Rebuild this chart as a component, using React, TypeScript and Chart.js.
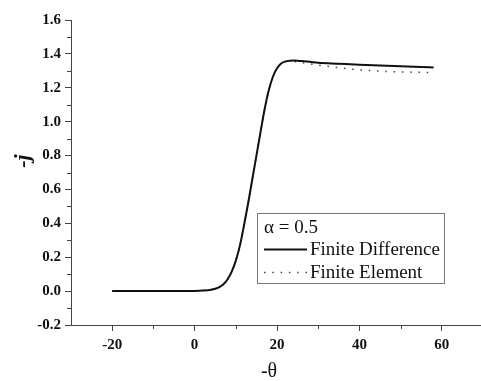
import React, { useEffect, useRef } from 'react';
import { Chart, registerables } from 'chart.js';

Chart.register(...registerables);

const thetaFD = [-20, -15, -10, -5, 0, 2, 4, 5, 6, 7, 8, 9, 10, 11, 12, 13, 14, 15, 16, 17, 18, 19, 20, 21, 22, 23, 24, 25, 26, 28, 30, 35, 40, 45, 50, 55, 58];
const finiteDifference = [0, 0, 0, 0, 0.001, 0.003, 0.008, 0.014, 0.024, 0.04, 0.07, 0.115, 0.18, 0.27, 0.39, 0.52, 0.66, 0.8, 0.94, 1.075, 1.185, 1.265, 1.315, 1.343, 1.355, 1.36, 1.361, 1.36, 1.358, 1.353, 1.348, 1.342, 1.336, 1.331, 1.327, 1.323, 1.32];
const thetaFE = [-20, -15, -10, -5, 0, 2, 4, 5, 6, 7, 8, 9, 10, 11, 12, 13, 14, 15, 16, 17, 18, 19, 20, 21, 22, 23, 24, 25, 26, 28, 30, 35, 40, 45, 50, 55, 57];
const finiteElement = [0, 0, 0, 0, 0.001, 0.003, 0.008, 0.014, 0.024, 0.04, 0.07, 0.115, 0.18, 0.27, 0.39, 0.52, 0.66, 0.8, 0.94, 1.075, 1.185, 1.265, 1.315, 1.343, 1.354, 1.357, 1.356, 1.353, 1.349, 1.341, 1.334, 1.318, 1.306, 1.298, 1.294, 1.291, 1.29];

const xMajorTicks = [-20, 0, 20, 40, 60];
const xMinorTicks = [-10, 10, 30, 50];
const yMajorTicks = [-0.2, 0, 0.2, 0.4, 0.6, 0.8, 1.0, 1.2, 1.4, 1.6];
const yMinorTicks = [-0.1, 0.1, 0.3, 0.5, 0.7, 0.9, 1.1, 1.3, 1.5];

const seriesLabels = ['Finite Difference', 'Finite Element'];
const legendTitle = 'α = 0.5';
const xTitle = '-θ';
const yTitle = '-j';

const AXIS_COLOR = '#444';
const SERIF = "'Liberation Serif', 'Times New Roman', serif";

const decorPlugin = {
  id: 'decor',
  afterDraw(chart: any) {
    const ctx = chart.ctx as CanvasRenderingContext2D;
    const xs = chart.scales.x;
    const ys = chart.scales.y;
    const area = chart.chartArea;
    ctx.save();
    // minor ticks
    ctx.strokeStyle = AXIS_COLOR;
    ctx.lineWidth = 1;
    ctx.beginPath();
    xMinorTicks.forEach((v) => {
      const px = Math.round(xs.getPixelForValue(v)) + 0.5;
      ctx.moveTo(px, area.bottom);
      ctx.lineTo(px, area.bottom + 4);
    });
    yMinorTicks.forEach((v) => {
      const py = Math.round(ys.getPixelForValue(v)) + 0.5;
      ctx.moveTo(area.left, py);
      ctx.lineTo(area.left - 4, py);
    });
    ctx.stroke();

    // axis titles
    ctx.fillStyle = '#111';
    ctx.font = `italic bold 22px ${SERIF}`;
    ctx.textAlign = 'center';
    ctx.textBaseline = 'alphabetic';
    ctx.save();
    ctx.translate(29, 161);
    ctx.rotate(-Math.PI / 2);
    ctx.fillText(yTitle, 0, 0);
    ctx.restore();
    ctx.font = `20px ${SERIF}`;
    ctx.fillText(xTitle, 269, 377);

    // legend box
    const bx = 257.5, by = 213.5, bw = 187, bh = 70;
    ctx.strokeStyle = '#777';
    ctx.lineWidth = 1;
    ctx.fillStyle = '#fff';
    ctx.fillRect(bx, by, bw, bh);
    ctx.strokeRect(bx, by, bw, bh);
    ctx.fillStyle = '#111';
    ctx.font = `19px ${SERIF}`;
    ctx.textAlign = 'left';
    ctx.fillText(legendTitle, 264, 233);
    const rows = [255, 278];
    chart.data.datasets.forEach((ds: any, i: number) => {
      const yLine = rows[i] - 5.5;
      ctx.save();
      ctx.strokeStyle = ds.borderColor;
      ctx.lineWidth = ds.borderWidth;
      ctx.setLineDash(ds.borderDash || []);
      ctx.beginPath();
      ctx.moveTo(264, yLine);
      ctx.lineTo(307, yLine);
      ctx.stroke();
      ctx.restore();
      ctx.fillStyle = '#111';
      ctx.fillText(ds.label, 310, rows[i]);
    });
    ctx.restore();
  },
};

export default function App() {
  const canvasRef = useRef<HTMLCanvasElement | null>(null);

  useEffect(() => {
    document.body.style.margin = '0';
    const canvas = canvasRef.current;
    if (!canvas) return;
    const tickFont = { family: SERIF, size: 15, weight: 'bold' as const };
    const chart = new Chart(canvas, {
      type: 'line',
      data: {
        datasets: [
          {
            label: seriesLabels[0],
            data: thetaFD.map((x, i) => ({ x, y: finiteDifference[i] })),
            borderColor: '#111',
            borderWidth: 2,
            pointRadius: 0,
            cubicInterpolationMode: 'monotone',
            fill: false,
          },
          {
            label: seriesLabels[1],
            data: thetaFE.map((x, i) => ({ x, y: finiteElement[i] })),
            borderColor: '#444',
            borderWidth: 1.5,
            borderDash: [1.5, 6.8],
            pointRadius: 0,
            cubicInterpolationMode: 'monotone',
            fill: false,
          },
        ],
      },
      options: {
        animation: false,
        responsive: false,
        devicePixelRatio: 1,
        layout: { padding: { top: 20, right: 0, left: 0, bottom: 0 } },
        plugins: { legend: { display: false }, tooltip: { enabled: false } },
        scales: {
          x: {
            type: 'linear',
            min: -30,
            max: 69.5,
            afterBuildTicks: (axis: any) => {
              axis.ticks = xMajorTicks.map((v) => ({ value: v }));
            },
            afterFit: (scale: any) => {
              scale.height = 56;
            },
            ticks: {
              font: tickFont,
              color: '#111',
              padding: 5,
              maxRotation: 0,
              autoSkip: false,
              callback: (v: any) => String(v),
            },
            grid: {
              drawOnChartArea: false,
              drawTicks: true,
              tickLength: 6,
              tickColor: AXIS_COLOR,
            },
            border: { display: true, color: AXIS_COLOR, width: 1 },
          },
          y: {
            type: 'linear',
            min: -0.2,
            max: 1.6,
            afterBuildTicks: (axis: any) => {
              axis.ticks = yMajorTicks.map((v) => ({ value: v }));
            },
            afterFit: (scale: any) => {
              scale.width = 71;
            },
            ticks: {
              font: tickFont,
              color: '#111',
              padding: 4,
              autoSkip: false,
              callback: (v: any) => Number(v).toFixed(1),
            },
            grid: {
              drawOnChartArea: false,
              drawTicks: true,
              tickLength: 6,
              tickColor: AXIS_COLOR,
            },
            border: { display: true, color: AXIS_COLOR, width: 1 },
          },
        },
      },
      plugins: [decorPlugin],
    });
    return () => chart.destroy();
  }, []);

  return (
    <div style={{ width: 481, height: 381 }}>
      <canvas ref={canvasRef} width={481} height={381} />
    </div>
  );
}
